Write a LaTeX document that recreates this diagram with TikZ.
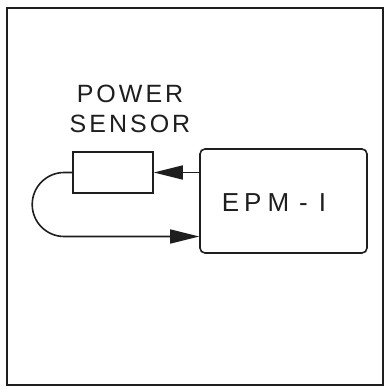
\documentclass[tikz,border=0pt]{standalone}
\usepackage{fontspec}
\setmainfont{Liberation Sans}
\newfontfamily\labelfont[LetterSpace=12]{Liberation Sans}
\usetikzlibrary{arrows.meta,positioning}
\definecolor{inkBlack}{RGB}{30,30,30}
\tikzset{
  frame/.style={draw=inkBlack, line width=1.4pt},
  sensorbox/.style={draw=inkBlack, line width=1.6pt, minimum width=80pt, minimum height=41pt, inner sep=0pt},
  meterbox/.style={draw=inkBlack, line width=1.6pt, rounded corners=5pt, minimum width=167pt, minimum height=104pt, inner sep=0pt},
  label/.style={font=\labelfont\fontsize{25}{28}\selectfont, text=inkBlack, inner sep=0pt},
  flow/.style={-{Triangle[length=29pt, width=14pt]}, line width=1.6pt, draw=inkBlack}
}
\begin{document}
\begin{tikzpicture}[x=1pt, y=1pt]
        \useasboundingbox (0,0) rectangle (386,389);
        \draw[frame] (7,4) rectangle (383,381);
        \node[sensorbox] (sensor) at (113,216.5) {};
        \node[meterbox] (epm) at (283.5,188) {};
        \node[label, anchor=base] (sensname) at (130,256) {SENSOR};
        \node[label, anchor=base] (powname) at (130,286) {POWER};
        \node[label, font=\fontsize{26}{28}\selectfont, anchor=base] (epmname) at (274,177.5)
          {E\kern5pt P\kern6pt M\kern10pt-\kern11pt I};
        \draw[flow] (epm.west |- sensor.east) -- (sensor.east);
        \draw[flow] (sensor.west) -- ++(-8,0) arc[start angle=90, end angle=270, radius=32]
          coordinate (loopend) -- (loopend -| epm.west);
      \end{tikzpicture}
\end{document}
